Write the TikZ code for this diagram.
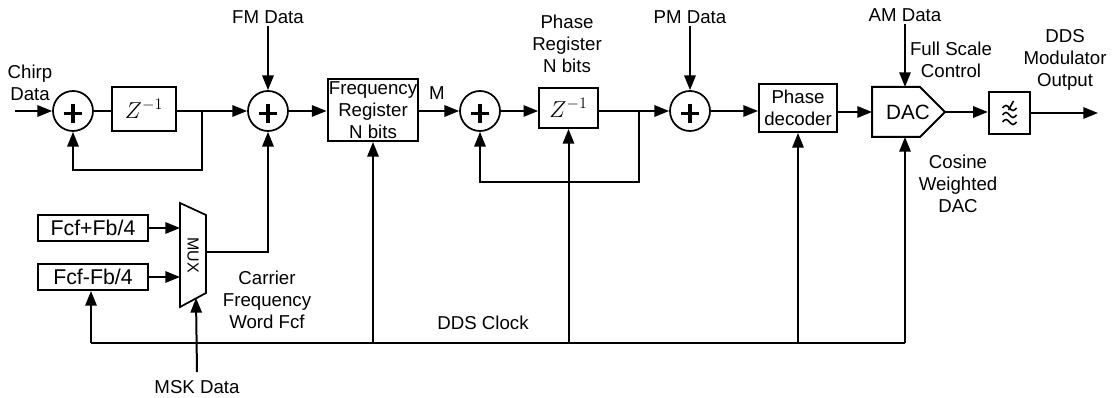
\documentclass[tikz,border=0pt]{standalone}
\usepackage{fontspec}
\setmainfont{Liberation Sans}
\usetikzlibrary{arrows.meta, positioning}
\newcommand{\dfont}{\fontsize{14}{16.5}\selectfont}
\tikzset{
  sig/.style={-{Triangle[length=11pt,width=8.5pt]}, line width=1.5pt},
  wire/.style={line width=1.5pt},
  blk/.style={rectangle, draw, line width=1.5pt, inner sep=1pt, align=center, font=\dfont},
  zbox/.style={blk, font=\fontsize{18}{18}\selectfont},
  lbl/.style={align=center, font=\dfont, inner sep=2pt},
  summ/.style={circle, draw, line width=1.3pt, minimum size=30pt, inner sep=0pt,
    path picture={\draw[line width=2.6pt]
      ([yshift=-2pt]path picture bounding box.center) ++(-7pt,0) -- ++(14pt,0)
      ([yshift=-2pt]path picture bounding box.center) ++(0,-7pt) -- ++(0,14pt);}},
  lpfbox/.style={rectangle, draw, line width=1.5pt, minimum size=31pt,
    path picture={\begin{scope}[shift={(path picture bounding box.center)}, line width=1.2pt]
      \draw (-7,-5) sin (-3.5,-7.5) cos (0,-5) sin (3.5,-2.5) cos (7,-5);
      \draw (-7,2) sin (-3.5,-0.5) cos (0,2) sin (3.5,4.5) cos (7,2);
      \draw (-7,9) sin (-3.5,6.5) cos (0,9) sin (3.5,11.5) cos (7,9);
      \draw (4,-12) -- (-1,-3);
    \end{scope}}},
}

\begin{document}
\begin{tikzpicture}[x=0.75pt, y=-0.75pt]
  \useasboundingbox (0,0) rectangle (1112,398);
  % upper row
  \node[lbl] (chirp) at (30,83) {Chirp\\Data};
  \coordinate (chin) at (15,111);
  \node[summ] (sa) at (73,111) {};
  \node[zbox, minimum width=48pt, minimum height=33pt] (za) at (144,109) {$Z^{-1}$};
  \coordinate (bra) at (202,111);
  \coordinate (fba) at (202,170);
  \node[summ] (sb) at (268,111) {};
  \node[lbl] (fm) at (268,17) {FM Data};
  \node[blk, minimum width=67.5pt, minimum height=46.5pt] (freq) at (373,110) {Frequency\\Register\\N bits};
  \node[lbl] (m) at (437,93) {M};
  \node[summ] (sc) at (480,111) {};
  \node[zbox, minimum width=44pt, minimum height=30pt] (zb) at (568.5,108) {$Z^{-1}$};
  \node[lbl] (preg) at (567,44) {Phase\\Register\\N bits};
  \coordinate (brb) at (639,111);
  \coordinate (fbb) at (639,182);
  \node[summ] (sd) at (690,111) {};
  \node[lbl] (pm) at (690,17) {PM Data};
  \node[blk, minimum width=58.5pt, minimum height=36pt] (dec) at (798,108) {Phase\\decoder};
  % DAC outline with its ports
  \draw[line width=1.5pt] (872,87) -- (920,87) -- (945,112) -- (920,137) -- (872,137) -- cycle;
  \node[font=\fontsize{15.5}{16}\selectfont, inner sep=0pt] (dac) at (908,112) {DAC};
  \coordinate (dacw) at (872,112);
  \coordinate (dace) at (945,112);
  \coordinate (dacn) at (905,87);
  \coordinate (dacs) at (905,137);
  \node[lbl] (am) at (905,15) {AM Data};
  \node[lbl] (fsc) at (951,60) {Full Scale\\Control};
  \node[lbl] (cwd) at (958,184) {Cosine\\Weighted\\DAC};
  \node[lpfbox] (lpf) at (1009.5,113) {};
  \coordinate (out) at (1098,113);
  \node[lbl] (ddsout) at (1065,60) {DDS\\Modulator\\Output};
  % main path
  \draw[sig] (chin) -- (sa);
  \draw[wire] (sa) -- (sa -| za.west);
  \draw[sig] (za.east |- sa) -- (sb);
  \draw[sig] (bra) -- (fba) -| (sa);
  \draw[sig] (fm) -- (sb);
  \draw[sig] (sb) -- (sb -| freq.west);
  \draw[sig] (freq.east |- sc) -- (sc);
  \draw[sig] (sc) -- (sc -| zb.west);
  \draw[sig] (zb.east |- sc) -- (sd);
  \draw[sig] (brb) -- (fbb) -| (sc);
  \draw[sig] (pm) -- (sd);
  \draw[sig] (sd) -- (sd -| dec.west);
  \draw[sig] (dec.east |- dacw) -- (dacw);
  \draw[sig] (am) -- (dacn);
  \draw[sig] (dace) -- (dace -| lpf.west);
  \draw[sig] (lpf) -- (out);
  % carrier word select
  \node[blk, font=\fontsize{16}{16}\selectfont, minimum width=82.5pt, minimum height=19.5pt] (fplus) at (93,228) {Fcf+Fb/4};
  \node[blk, font=\fontsize{16}{16}\selectfont, minimum width=82.5pt, minimum height=19.5pt] (fminus) at (93,277) {Fcf-Fb/4};
  \draw[line width=1.3pt] (180,203) -- (206,215) -- (206,293) -- (180,307) -- cycle;
  \node[rotate=-90, font=\fontsize{12}{12}\selectfont, inner sep=0pt] (mux) at (193,255) {MUX};
  \coordinate (muxa) at (180,228);
  \coordinate (muxb) at (180,277);
  \coordinate (muxo) at (206,252);
  \coordinate (muxs) at (196,298);
  \draw[sig] (fplus) -- (muxa);
  \draw[sig] (fminus) -- (muxb);
  \draw[sig] (muxo) -| (sb);
  \node[lbl] (msk) at (197,387) {MSK Data};
  \draw[sig] ([yshift=4pt]msk.north) -- (muxs);
  \node[lbl] (cfw) at (267,300) {Carrier\\Frequency\\Word Fcf};
  % clock bus
  \node[lbl] (clk) at (483,323) {DDS Clock};
  \coordinate (clkl) at (91,343);
  \coordinate (clkr) at (905,343);
  \draw[wire] (clkl) -- (clkr);
  \draw[sig] (clkl) -- (clkl |- fminus.south);
  \draw[sig] (freq.south |- clkl) -- (freq);
  \draw[sig] (zb.south |- clkl) -- (zb);
  \draw[sig] (dec.south |- clkl) -- (dec);
  \draw[sig] (clkr) -- (dacs);
\end{tikzpicture}
\end{document}
